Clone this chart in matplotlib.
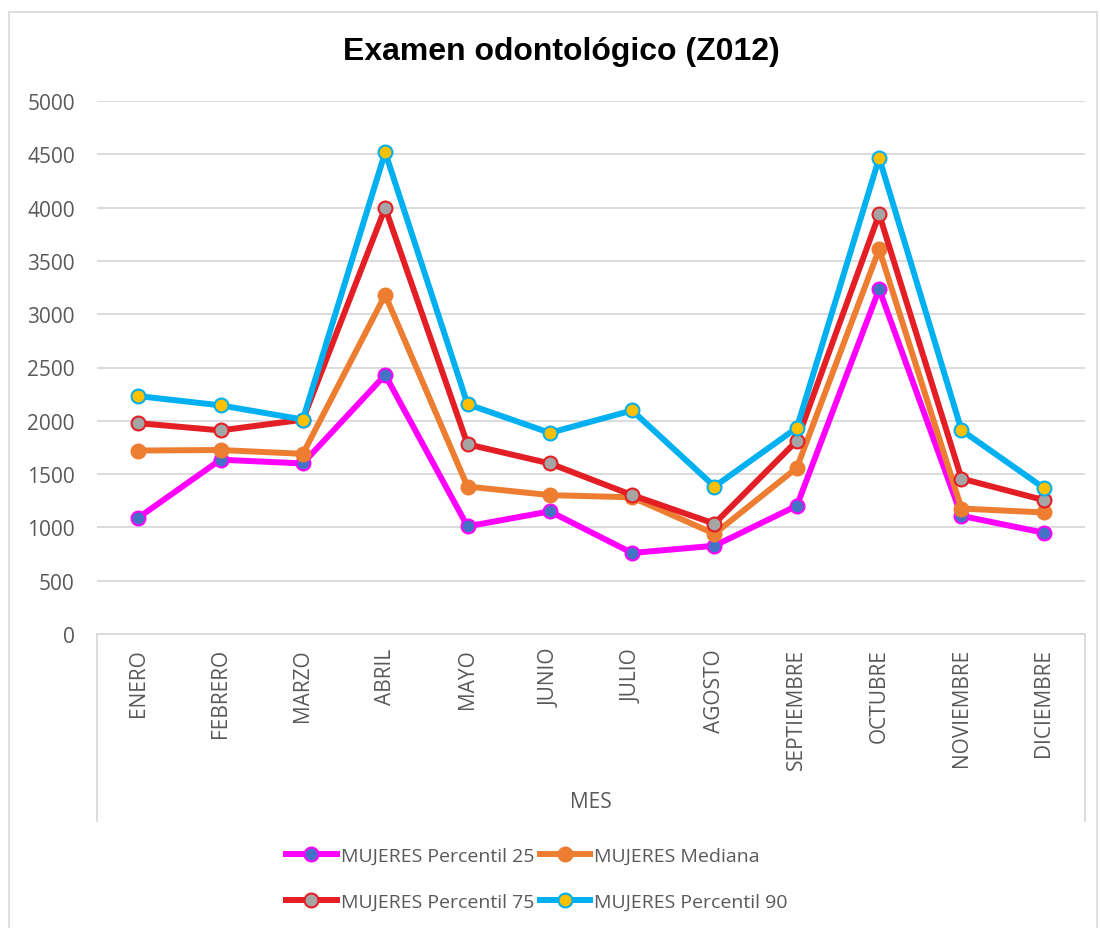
import matplotlib.pyplot as plt
from matplotlib.lines import Line2D
import numpy as np

plt.rcParams['font.family'] = ['Open Sans', 'DejaVu Sans']

# datos
meses = ['ENERO', 'FEBRERO', 'MARZO', 'ABRIL', 'MAYO', 'JUNIO', 'JULIO',
         'AGOSTO', 'SEPTIEMBRE', 'OCTUBRE', 'NOVIEMBRE', 'DICIEMBRE']
p25 = [1090, 1635, 1600, 2430, 1010, 1150, 760, 828, 1203, 3235, 1108, 950]
mediana = [1721, 1726, 1690, 3181, 1383, 1303, 1282, 940, 1559, 3610, 1177, 1140]
p75 = [1978, 1910, 2010, 3997, 1780, 1600, 1303, 1035, 1812, 3938, 1458, 1256]
p90 = [2232, 2145, 2012, 4519, 2156, 1887, 2097, 1383, 1934, 4465, 1912, 1370]

W, H = 1100, 929
fig = plt.figure(figsize=(W / 100, H / 100), dpi=100)

def fx(px):
    return px / W

def fy(py):
    return 1 - py / H

# borde exterior del gráfico
border = plt.Rectangle((fx(9), fy(935)), fx(1097) - fx(9), fy(13) - fy(935),
                       transform=fig.transFigure, fill=False,
                       edgecolor='#d9d9d9', linewidth=1.2)
fig.patches.append(border)

ax = fig.add_axes([fx(97), fy(635), fx(1085) - fx(97), fy(102) - fy(635)])

x = np.arange(len(meses))
series = [
    ('MUJERES Percentil 25', p25, '#FF00FF', '#4472C4'),
    ('MUJERES Mediana', mediana, '#ED7D31', '#ED7D31'),
    ('MUJERES Percentil 75', p75, '#E31E24', '#A5A5A5'),
    ('MUJERES Percentil 90', p90, '#00B0F0', '#FFC000'),
]
lines = []
for i, (name, vals, lc, fc) in enumerate(series):
    ln, = ax.plot(x, vals, color=lc, linewidth=4.3, marker='o', markersize=10,
                  markerfacecolor=fc, markeredgecolor=lc, markeredgewidth=1.5,
                  label=name, zorder=3 + i)
    lines.append(ln)

ax.set_xlim(-0.5, len(meses) - 0.5)
ax.set_ylim(0, 5000)
ax.set_yticks(np.arange(0, 5001, 500))
ax.set_xticks(x)
ax.set_xticklabels(meses, rotation=90, va='top', ha='center')
ax.tick_params(axis='both', length=0, labelsize=15, labelcolor='#595959')
ax.tick_params(axis='x', pad=10)
ax.tick_params(axis='y', pad=16)
ax.grid(axis='y', color='#d9d9d9', linewidth=1.3)
ax.set_axisbelow(True)
for s in ['top', 'left', 'right']:
    ax.spines[s].set_visible(False)
ax.spines['bottom'].set_color('#d9d9d9')
ax.spines['bottom'].set_linewidth(1.3)

# caja del eje de categorías
for px in (97, 1085):
    fig.add_artist(Line2D([fx(px), fx(px)], [fy(635), fy(822)],
                          transform=fig.transFigure, color='#d9d9d9', linewidth=1.3))

fig.text(fx(591), fy(803), 'MES', ha='center', va='center',
         fontsize=15, color='#595959')

fig.text(fx(561), fy(52), 'Examen odontológico (Z012)', ha='center', va='center',
         fontsize=23, fontweight='bold', family=['Liberation Sans', 'DejaVu Sans'])

# orden por filas como en Excel
order = [0, 2, 1, 3]
ax.legend([lines[k] for k in order], [series[k][0] for k in order],
          loc='center', bbox_to_anchor=(fx(537), fy(880)),
          bbox_transform=fig.transFigure, ncol=2, frameon=False,
          fontsize=14, labelcolor='#595959', handlelength=2.6,
          handletextpad=0.2, columnspacing=0.3, labelspacing=1.45)

fig.savefig('out.png', dpi=100)
